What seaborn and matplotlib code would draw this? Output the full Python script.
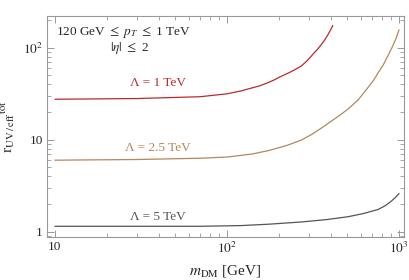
import seaborn as sns
import matplotlib.pyplot as plt
import pandas as pd

# values (m_DM in GeV, r_UV/eff^tot)
m_l1 = [10, 30, 70, 100, 120, 136, 155, 173, 190, 203, 230, 250, 270,
        290, 304, 320, 336, 352, 370, 386, 400, 412]
r_l1 = [27.5, 28.0, 29.3, 31.5, 33.8, 36.0, 38.5, 41.5, 45.0, 48.0, 53.5,
        58.0, 63.0, 71.0, 78.0, 87.0, 96.0, 107.0, 121.0, 138.0, 155.0, 174.0]

m_l25 = [10, 30, 70, 101, 140, 173, 220, 270, 310, 352, 400, 450, 505,
         578, 661, 710, 755, 810, 863, 910, 960, 1000]
r_l25 = [6.0, 6.1, 6.3, 6.5, 7.0, 7.6, 8.6, 9.9, 11.4, 13.3, 15.7, 18.3,
         21.5, 27.0, 37.0, 44.0, 53.0, 65.0, 82.0, 100.0, 125.0, 156.0]

m_l5 = [10, 70, 120, 173, 270, 380, 505, 620, 755, 830, 887, 950, 1000]
r_l5 = [1.15, 1.15, 1.17, 1.21, 1.28, 1.36, 1.46, 1.58, 1.75, 1.92, 2.1,
        2.35, 2.61]

lambdas = ["1 TeV", "2.5 TeV", "5 TeV"]
colors = ["#bb2a2e", "#b8865a", "#555555"]

df = pd.concat([
    pd.DataFrame({"m": m_l1, "r": r_l1, "lam": lambdas[0]}),
    pd.DataFrame({"m": m_l25, "r": r_l25, "lam": lambdas[1]}),
    pd.DataFrame({"m": m_l5, "r": r_l5, "lam": lambdas[2]}),
])

sns.set_style("ticks")
plt.rcParams["font.family"] = ["Liberation Serif", "DejaVu Serif"]
plt.rcParams["mathtext.fontset"] = "stix"

fig = plt.figure(figsize=(4.09, 2.80), dpi=100)
ax = fig.add_axes([0.115, 0.1536, 0.873, 0.7904])

sns.lineplot(data=df, x="m", y="r", hue="lam", palette=colors,
             linewidth=0.9, legend=False, ax=ax)

ax.set_xscale("log")
ax.set_yscale("log")
ax.set_xlim(9.0, 1070)
ax.set_ylim(0.88, 222)

ax.set_xticks([10, 100, 1000], labels=["10", "$10^2$", "$10^3$"])
ax.set_yticks([1, 10, 100], labels=["1", "10", "$10^2$"])
ax.tick_params(which="both", direction="in", top=True, right=True,
               color="#999999", labelsize=9.5, pad=3)
ax.tick_params(which="major", length=5, width=0.7)
ax.tick_params(which="minor", length=2.8, width=0.6)
for s in ax.spines.values():
    s.set_color("#999999")
    s.set_linewidth(0.8)

ax.set_xlabel(r"$m_{\rm DM}$ [GeV]", fontsize=11, labelpad=5)
ax.set_ylabel(r"r$_{\rm UV\,/\,eff}$$^{\rm tot}$", fontsize=11)
ax.yaxis.set_label_coords(-0.085, 0.5)

ax.text(0.213, 0.926, r"120 GeV $\leq$ $p_T$ $\leq$ 1 TeV",
        transform=ax.transAxes, ha="center", va="center", fontsize=9.5)
ax.text(0.232, 0.854, r"$|\eta|$ $\leq$ 2", transform=ax.transAxes,
        ha="center", va="center", fontsize=9.5)
for lam, c, yy in zip(lambdas, colors, [0.696, 0.402, 0.09]):
    ax.text(0.311, yy, "Λ = " + lam, transform=ax.transAxes,
            ha="center", va="center", fontsize=9.5, color=c)

plt.savefig("out.png", dpi=100)
